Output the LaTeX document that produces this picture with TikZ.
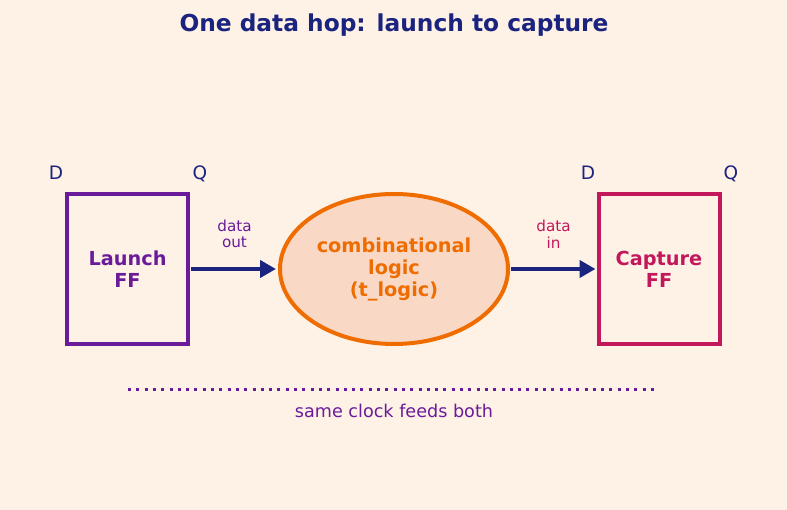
\documentclass[tikz,border=0pt]{standalone}
\usepackage{fontspec}
\setmainfont{DejaVu Sans}
\usetikzlibrary{shapes.geometric,arrows.meta}
\definecolor{bg}{HTML}{FEF1E6}
\definecolor{navy}{HTML}{1A237E}
\definecolor{purp}{HTML}{6A1B9A}
\definecolor{crim}{HTML}{C2185B}
\definecolor{orng}{HTML}{EF6C00}
\definecolor{efill}{HTML}{F9D8C5}
\tikzset{
  ffbox/.style={draw, line width=4pt, minimum width=121pt, minimum height=150pt, align=center, inner sep=0pt,
    font=\fontsize{19.3}{22}\selectfont\bfseries},
  pinlabel/.style={text=navy, font=\fontsize{18.5}{20}\selectfont, inner sep=0pt},
  hoparrow/.style={draw=navy, line width=4pt, -{Triangle[length=16pt,width=17pt]}},
  wirelabel/.style={align=center, inner sep=0pt, font=\fontsize{15.2}{16.5}\selectfont},
}
\begin{document}
\begin{tikzpicture}[x=1pt,y=-1pt]
\fill[bg] (0,0) rectangle (787,510);
\useasboundingbox (0,0) rectangle (787,510);
\node[text=navy, font=\fontsize{23.3}{26}\selectfont\bfseries, inner sep=0pt] (title) at (394,25) {One data hop: launch to capture};
\node[ffbox, draw=purp, text=purp] (launch) at (127.5,269) {Launch\\FF};
\node[ffbox, draw=crim, text=crim] (capture) at (659,269) {Capture\\FF};
\node[ellipse, draw=orng, fill=efill, line width=4pt, minimum width=228pt, minimum height=150pt, inner sep=0pt,
  text=orng, align=center, font=\fontsize{19.3}{22}\selectfont\bfseries] (logic) at (394,269) {combinational\\logic\\(t\_logic)};
\node[pinlabel] (ld) at (56,173) {D};
\node[pinlabel] (lq) at (200,174) {Q};
\node[pinlabel] (cd) at (588,173) {D};
\node[pinlabel] (cq) at (731,174) {Q};
\draw[hoparrow, shorten <=0.5pt, shorten >=2pt] (launch.east) -- (logic.west);
\draw[hoparrow, shorten <=1pt, shorten >=1pt] (logic.east) -- (capture.west);
\node[wirelabel, text=purp] (dout) at (234.5,234) {data\\out};
\node[wirelabel, text=crim] (din) at (553.5,234) {data\\in};
\coordinate (clkl) at (128,390);
\coordinate (clkr) at (658,390);
\draw[purp, line width=3pt, dash pattern=on 3pt off 5.3pt] (clkl) -- (clkr);
\node[text=purp, font=\fontsize{17.6}{19}\selectfont, inner sep=0pt] (clk) at (394,411) {same clock feeds both};
\end{tikzpicture}
\end{document}
